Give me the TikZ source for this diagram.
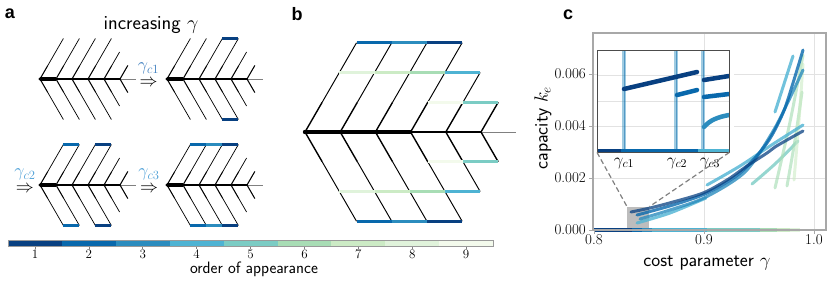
\documentclass[tikz,border=0pt]{standalone}
\usepackage{fix-cm}
\usepackage{fontspec}
\newfontfamily\panelfont{Liberation Sans}
\usetikzlibrary{calc}
\definecolor{cA}{HTML}{084081}
\definecolor{cB}{HTML}{0868AC}
\definecolor{cC}{HTML}{2B8CBE}
\definecolor{cD}{HTML}{4EB3D3}
\definecolor{cE}{HTML}{7BCCC4}
\definecolor{cF}{HTML}{A8DDB5}
\definecolor{cG}{HTML}{CCEBC5}
\definecolor{cH}{HTML}{E0F3DB}
\definecolor{cI}{HTML}{F3FAEC}
\definecolor{glabA}{HTML}{3F7FBF}
\definecolor{glabB}{HTML}{4A9ED6}
\definecolor{spinec}{HTML}{A8A8A8}
\definecolor{gridc}{HTML}{E2E2E2}
\definecolor{zoomc}{HTML}{BDBDBD}

\newcommand{\mktree}[4]{%
  \pgfmathsetmacro{\ts}{#4}%
  \pgfmathsetmacro{\th}{#4*0.845}%
  \foreach \i in {0,...,5}{%
    \coordinate (#1-\i) at ({#2+\i*\ts},#3);
    \foreach \k in {1,2,3}{%
      \coordinate (#1-\i-u\k) at ({#2+\i*\ts+\k*\th*0.57735},{#3-\k*\th});
      \coordinate (#1-\i-d\k) at ({#2+\i*\ts+\k*\th*0.57735},{#3+\k*\th});
    }%
  }%
  \coordinate (#1-end) at ({#2+6*\ts},#3);
}
\newcommand{\drawtree}[2]{%
  \foreach \a/\b/\w in {0/1/4.5,1/2/3.8,2/3/3.2,3/4/2.4,4/5/1.6}{%
    \draw[line width={#2*\w*1pt}] (#1-\a) -- (#1-\b);
  }%
  \draw[line width={#2*1pt}, gray] (#1-5) -- (#1-end);
  \fill (#1-0) circle ({#2*2.2pt});
  \foreach \i/\m in {0/3,1/3,2/3,3/3,4/2,5/1}{%
    \draw[line width={#2*1.4pt}] (#1-\i) -- (#1-\i-u1);
    \draw[line width={#2*1.4pt}] (#1-\i) -- (#1-\i-d1);
    \ifnum\m>1
      \draw[line width={#2*0.95pt}] (#1-\i-u1) -- (#1-\i-u\m);
      \draw[line width={#2*0.95pt}] (#1-\i-d1) -- (#1-\i-d\m);
    \fi
  }%
}

\begin{document}
\begin{tikzpicture}[x=1pt,y=-1pt,
  plbl/.style={font=\panelfont\bfseries\fontsize{18}{20}\selectfont},
  albl/.style={font=\sffamily\fontsize{16.5}{18}\selectfont},
  clbl/.style={font=\sffamily\fontsize{19}{21}\selectfont},
  mlbl/.style={font=\fontsize{18}{20}\selectfont, inner sep=0pt, align=center},
  tlbl/.style={font=\fontsize{15}{17}\selectfont},
  ilbl/.style={font=\fontsize{17}{19}\selectfont, inner sep=0pt},
  cblbl/.style={font=\fontsize{13}{15}\selectfont},
  barA/.style={line width=3pt},
  barB/.style={line width=3.3pt},
  crv/.style={line width=3pt, line cap=round, opacity=0.8},
  icrv/.style={line width=4.5pt, line cap=round},
  gridl/.style={draw=gridc, line width=0.8pt},
]
\useasboundingbox (0,0) rectangle (830,282);

% ---------------- panel a ----------------
\node[plbl] (la) at (10,14) {a};
\node[font=\sffamily\fontsize{20}{22}\selectfont] (inc) at (151,25) {increasing $\gamma$};

\mktree{A}{40}{79}{16}
\mktree{B}{167}{79}{16}
\mktree{C}{40}{185}{16}
\mktree{D}{167}{185}{16}
\drawtree{A}{0.75}
\drawtree{B}{0.75}
\drawtree{C}{0.75}
\drawtree{D}{0.75}

\draw[barA, cA] (B-2-u3) -- (B-3-u3);
\draw[barA, cA] (B-2-d3) -- (B-3-d3);

\draw[barA, cB] (C-0-u3) -- (C-1-u3);
\draw[barA, cA] (C-2-u3) -- (C-3-u3);
\draw[barA, cB] (C-0-d3) -- (C-1-d3);
\draw[barA, cA] (C-2-d3) -- (C-3-d3);

\draw[barA, cB] (D-0-u3) -- (D-1-u3);
\draw[barA, cC] (D-1-u3) -- (D-2-u3);
\draw[barA, cA] (D-2-u3) -- (D-3-u3);
\draw[barA, cB] (D-0-d3) -- (D-1-d3);
\draw[barA, cC] (D-1-d3) -- (D-2-d3);
\draw[barA, cA] (D-2-d3) -- (D-3-d3);

\node[mlbl] (g1) at (148.5,75) {{\color{glabA}$\gamma_{c1}$}\\[-4pt]$\Rightarrow$};
\node[mlbl] (g2) at (25,181) {{\color{glabB}$\gamma_{c2}$}\\[-4pt]$\Rightarrow$};
\node[mlbl] (g3) at (149,181) {{\color{glabB}$\gamma_{c3}$}\\[-4pt]$\Rightarrow$};

% ---------------- panel b ----------------
\node[plbl] (lb) at (297,14) {b};
\mktree{T}{305}{132}{35.2}
\drawtree{T}{1}
\foreach \r in {u,d}{
  \draw[barB, cB] (T-0-\r3) -- (T-1-\r3);
  \draw[barB, cC] (T-1-\r3) -- (T-2-\r3);
  \draw[barB, cA] (T-2-\r3) -- (T-3-\r3);
  \draw[barB, cH] (T-0-\r2) -- (T-1-\r2);
  \draw[barB, cG] (T-1-\r2) -- (T-2-\r2);
  \draw[barB, cF] (T-2-\r2) -- (T-3-\r2);
  \draw[barB, cD] (T-3-\r2) -- (T-4-\r2);
  \draw[barB, cI] (T-3-\r1) -- (T-4-\r1);
  \draw[barB, cE] (T-4-\r1) -- (T-5-\r1);
}

% ---------------- colorbar ----------------
\foreach \c [count=\n from 0] in {cA,cB,cC,cD,cE,cF,cG,cH,cI}{
  \fill[\c] ({8+\n*53.9},240) rectangle ({8+(\n+1)*53.9},246);
  \draw[gray, line width=0.6pt] ({8+(\n+0.5)*53.9},246) -- ({8+(\n+0.5)*53.9},248.5);
  \pgfmathtruncatemacro{\lab}{\n+1}
  \node[cblbl, inner sep=0] (cbt\n) at ({8+(\n+0.5)*53.9},254.5) {\lab};
}
\draw[gray!80, line width=0.8pt] (8,240) rectangle (493,246);
\node[albl] (cbl) at (254,269) {order of appearance};

% ---------------- panel c ----------------
\node[plbl] (lc) at (568,15) {c};
\foreach \gx in {704,814} \draw[gridl] (\gx,33) -- (\gx,230);
\foreach \gy in {178,126,74} \draw[gridl] (593,\gy) -- (826,\gy);

\node[fill=zoomc, inner sep=0, minimum width=22pt, minimum height=23pt, anchor=south west] (zrect) at (627,230) {};

% curves
\draw[crv, cE] plot[smooth] coordinates {(752,184) (775,164) (798,141)};
\draw[crv, cF, opacity=0.65] plot[smooth] coordinates {(775,188) (790,122) (803,55)};
\draw[crv, cF, opacity=0.65] plot[smooth] coordinates {(787,186) (795,140) (802,92)};
\draw[crv, cG, opacity=0.6] plot[smooth] coordinates {(794,180) (799,120) (803,64)};
\draw[crv, cD] plot[smooth] coordinates {(637,223) (670,213) (706,198)};
\draw[crv, cD] plot[smooth] coordinates {(707,185) (740,166) (770,146) (803,125)};
\draw[crv, cD] (775,112) -- (793,56);
\draw[crv, cC] plot[smooth] coordinates {(640,219) (673,209) (706,197) (745,172) (772,133) (788,102) (803,70)};
\draw[crv, cB] plot[smooth] coordinates {(637,215) (673,205) (707,193) (740,173) (767,143) (783,113) (793,83) (803,50)};
\draw[crv, cA, opacity=0.75] plot[smooth] coordinates {(631,212) (650,208) (673,202) (703,193) (727,180) (747,166) (767,153) (775,147) (787,140) (803,131)};

% baseline
\foreach \xa/\xb/\c in {594/632/cA,632/642/cB,642/652/cC,652/707/cD,707/760/cE,760/777/cF,777/790/cG,790/800/cH}{
  \draw[line width=4pt, \c] (\xa,230) -- (\xb,230);
}

% inset
\node[fill=white, inner sep=0, minimum width=132pt, minimum height=102pt, anchor=north west] (inset) at (597,50) {};
\foreach \gy in {75,101,126} \draw[gridl] (597,\gy) -- (729,\gy);
\foreach \vx in {624,676,703}{
  \draw[cC, opacity=0.45, line width=3.2pt] (\vx,50) -- (\vx,152);
  \draw[cB, opacity=0.5, line width=1pt] (\vx,50) -- (\vx,152);
}
\draw[line width=3.5pt, cA] (598,151) -- (621,151);
\draw[line width=3.5pt, cB] (621,151) -- (698,151);
\draw[line width=3.5pt, cD] (698,151) -- (729,151);
\draw[icrv, cA] (624,89) -- (697,72);
\draw[icrv, cB] (677,95) -- (697,90);
\draw[icrv, cA] (704,80) -- (729,76);
\draw[icrv, cB] (704,97) -- (729,94);
\draw[icrv, cC] (704,127) .. controls (710,120) and (718,117) .. (729,115);
\fill[white] (729,60) rectangle (734,140);
\draw[gray!60!black, line width=0.9pt] (inset.south west) rectangle (inset.north east);
\node[ilbl] (ig1) at (624,163) {$\gamma_{c1}$};
\node[ilbl] (ig2) at (677,163) {$\gamma_{c2}$};
\node[ilbl] (ig3) at (710,163) {$\gamma_{c3}$};

\draw[gray, line width=1.2pt, dash pattern=on 5pt off 3pt] (inset.south west) -- (zrect.north west);
\draw[gray, line width=1.2pt, dash pattern=on 5pt off 3pt] (inset.south east) -- (zrect.north east);

% frame + ticks
\draw[spinec, line width=1.3pt] (593,33) rectangle (826,230);
\foreach \ty/\tl in {230/0.000,178/0.002,126/0.004,74/0.006}{
  \draw[spinec, line width=1pt] (589,\ty) -- (593,\ty);
  \node[tlbl, anchor=east, inner sep=1pt] (yt\ty) at (587,\ty) {\tl};
}
\foreach \tx/\tl in {594/0.8,704/0.9,814/1.0}{
  \draw[spinec, line width=1pt] (\tx,230) -- (\tx,234);
  \node[tlbl, anchor=north, inner sep=1pt] (xt\tx) at (\tx,233) {\tl};
}
\node[clbl] (xl) at (707,263) {cost parameter $\gamma$};
\node[clbl, rotate=90, inner sep=0pt] (yl) at (543,128) {capacity $k_e$};
\end{tikzpicture}
\end{document}
